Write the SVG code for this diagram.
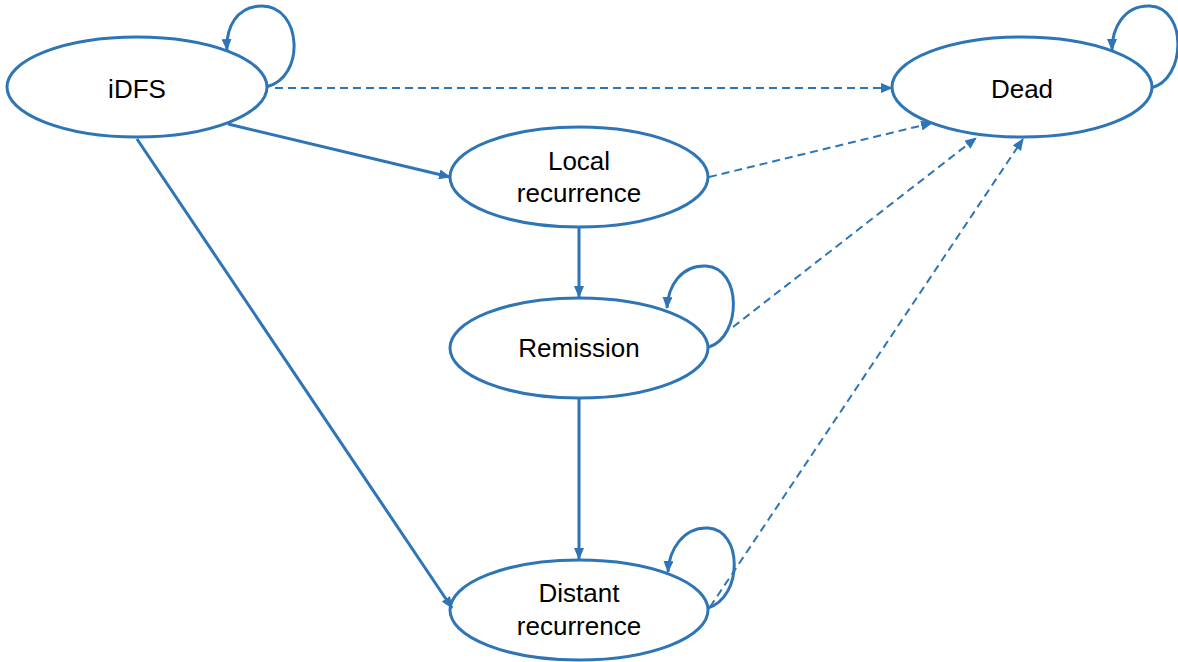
<svg xmlns="http://www.w3.org/2000/svg" width="1178" height="662" viewBox="0 0 1178 662">
<style>
.node{fill:#fff;stroke:#2E75B6;stroke-width:3}
.lbl{font-family:"Liberation Sans",Arial,sans-serif;font-size:26px;fill:#000;text-anchor:middle}
.solid{fill:none;stroke:#2E75B6;stroke-width:3}
.dash{fill:none;stroke:#2E75B6;stroke-width:2;stroke-dasharray:8 5}
</style>
<defs>
<marker id="ah" markerUnits="userSpaceOnUse" markerWidth="12" markerHeight="10" refX="11" refY="5" orient="auto">
<path d="M0,0 L12,5 L0,10 Z" fill="#2E75B6"/>
</marker>
</defs>
<rect width="1178" height="662" fill="#fff"/>
<g id="idfs"><ellipse class="node" cx="137" cy="87" rx="130" ry="50"/><text class="lbl" x="137" y="98">iDFS</text></g>
<g id="dead"><ellipse class="node" cx="1022" cy="87" rx="130" ry="50"/><text class="lbl" x="1022" y="98">Dead</text></g>
<g id="local"><ellipse class="node" cx="579" cy="177" rx="129" ry="50"/><text class="lbl" x="579" y="170">Local</text><text class="lbl" x="579" y="202">recurrence</text></g>
<g id="remission"><ellipse class="node" cx="579" cy="348" rx="129" ry="50"/><text class="lbl" x="579" y="357">Remission</text></g>
<g id="distant"><ellipse class="node" cx="579" cy="610" rx="129" ry="50"/><text class="lbl" x="579" y="602">Distant</text><text class="lbl" x="579" y="635">recurrence</text></g>
<g id="connectors">
<path class="solid" marker-end="url(#ah)" d="M266,87 C306,78 302,6 262,6 C236,6 226,28 227,50"/>
<path class="solid" marker-end="url(#ah)" d="M1151,88 C1186,80 1188,8 1150,6 C1124,5 1112,28 1112,50"/>
<path class="solid" marker-end="url(#ah)" d="M709,347 C742,336 742,268 706,266 C681,265 668,286 667,308"/>
<path class="solid" marker-end="url(#ah)" d="M708,608 C743,597 743,530 708,528 C683,527 669,550 668,572"/>
<line class="dash" marker-end="url(#ah)" x1="275" y1="88" x2="892" y2="88"/>
<line class="solid" marker-end="url(#ah)" x1="228" y1="124" x2="450" y2="177"/>
<line class="solid" marker-end="url(#ah)" x1="137" y1="139" x2="452" y2="608"/>
<line class="solid" marker-end="url(#ah)" x1="579" y1="228" x2="579" y2="297"/>
<line class="solid" marker-end="url(#ah)" x1="579" y1="399" x2="579" y2="559"/>
<line class="dash" marker-end="url(#ah)" x1="709" y1="177" x2="932" y2="123"/>
<line class="dash" marker-end="url(#ah)" x1="733" y1="327" x2="976" y2="138"/>
<line class="dash" marker-end="url(#ah)" x1="710" y1="607" x2="1023" y2="139"/>
</g>
</svg>
